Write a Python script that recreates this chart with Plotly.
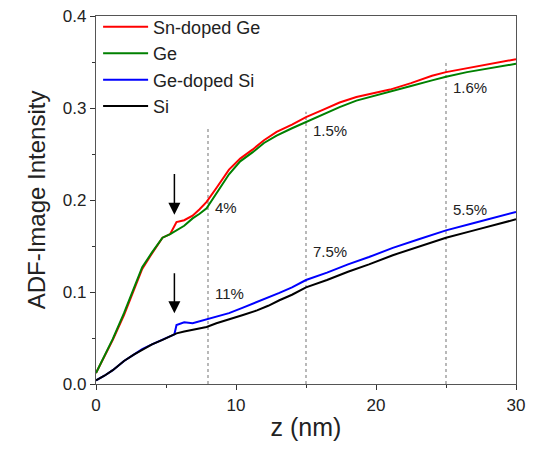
import plotly.graph_objects as go

# Depth profiles of ADF-image intensity
z_ge = [0.0, 0.6, 1.2, 2.0, 2.7, 3.3, 4.0, 4.75, 5.3, 5.75, 6.3, 6.9, 7.4, 7.9, 8.6, 9.5, 10.3, 11.2, 12.0, 12.9, 14.0, 15.0, 16.2, 17.4, 18.6, 20.0, 21.0, 22.5, 24.0, 25.0, 26.5, 28.0, 30.0]
sn_doped_ge = [0.012, 0.030, 0.048, 0.075, 0.103, 0.125, 0.142, 0.159, 0.163, 0.176, 0.178, 0.183, 0.190, 0.198, 0.213, 0.233, 0.245, 0.255, 0.265, 0.274, 0.282, 0.290, 0.298, 0.306, 0.312, 0.317, 0.320, 0.327, 0.335, 0.339, 0.343, 0.347, 0.353]
ge = [0.012, 0.030, 0.049, 0.077, 0.104, 0.127, 0.143, 0.159, 0.163, 0.167, 0.172, 0.180, 0.185, 0.191, 0.207, 0.228, 0.242, 0.252, 0.262, 0.270, 0.278, 0.285, 0.293, 0.301, 0.308, 0.314, 0.318, 0.324, 0.330, 0.334, 0.339, 0.343, 0.348]

z_si = [0.0, 0.6, 1.2, 2.0, 2.7, 3.3, 4.0, 4.75, 5.6, 5.75, 6.3, 6.9, 7.9, 8.6, 9.5, 10.5, 11.5, 12.3, 13.1, 14.0, 15.0, 16.5, 18.0, 19.5, 21.2, 23.0, 25.0, 27.0, 28.5, 30.0]
ge_doped_si = [0.004, 0.009, 0.015, 0.025, 0.032, 0.038, 0.043, 0.048, 0.054, 0.064, 0.067, 0.066, 0.070, 0.073, 0.077, 0.083, 0.089, 0.094, 0.099, 0.105, 0.113, 0.121, 0.130, 0.138, 0.148, 0.157, 0.167, 0.175, 0.181, 0.187]
si = [0.004, 0.009, 0.015, 0.025, 0.032, 0.037, 0.043, 0.048, 0.054, 0.055, 0.057, 0.059, 0.062, 0.066, 0.070, 0.075, 0.080, 0.085, 0.091, 0.097, 0.105, 0.113, 0.122, 0.130, 0.140, 0.149, 0.159, 0.167, 0.173, 0.179]

# Dotted reference depths and their concentration labels
ref_z = [8, 15, 25]
ref_top = [0.28, 0.296, 0.349]
ge_labels = ["4%", "1.5%", "1.6%"]
ge_label_y = [0.192, 0.276, 0.322]
si_labels = ["11%", "7.5%", "5.5%"]
si_label_y = [0.098, 0.144, 0.190]

series = [
    ("Sn-doped Ge", z_ge, sn_doped_ge, "#ff0000"),
    ("Ge", z_ge, ge, "#008000"),
    ("Ge-doped Si", z_si, ge_doped_si, "#0000ff"),
    ("Si", z_si, si, "#000000"),
]

fig = go.Figure()

for zr, top in zip(ref_z, ref_top):
    fig.add_trace(go.Scatter(x=[zr, zr], y=[0, top], mode="lines",
                             line=dict(color="#8a8a8a", width=1.2, dash="dot"),
                             showlegend=False, hoverinfo="skip"))

for name, xs, ys, col in series:
    fig.add_trace(go.Scatter(x=xs, y=ys, mode="lines", name=name,
                             line=dict(color=col, width=2)))

font = "Liberation Sans, Arial, sans-serif"
annotations = []
for zr, t, yv in zip(ref_z, ge_labels, ge_label_y):
    annotations.append(dict(x=zr + 0.35, y=yv, text=t, showarrow=False, xanchor="left",
                            font=dict(size=15, color="#222222", family=font)))
for zr, t, yv in zip(ref_z, si_labels, si_label_y):
    annotations.append(dict(x=zr + 0.35, y=yv, text=t, showarrow=False, xanchor="left",
                            font=dict(size=15, color="#222222", family=font)))

# Arrows marking the interface step
for y_head, y_tail in [(0.184, 0.230), (0.077, 0.122)]:
    annotations.append(dict(x=5.6, y=y_head, ax=5.6, ay=y_tail, xref="x", yref="y",
                            axref="x", ayref="y", showarrow=True, arrowhead=2,
                            arrowsize=1.6, arrowwidth=1.5, arrowcolor="black", text=""))

fig.update_layout(
    width=533, height=452,
    margin=dict(l=96, r=17, t=16, b=68, autoexpand=False),
    paper_bgcolor="white", plot_bgcolor="white",
    font=dict(family=font, color="#222222", size=17),
    showlegend=True,
    legend=dict(x=0.005, y=1.02, xanchor="left", yanchor="top",
                bgcolor="rgba(0,0,0,0)", font=dict(size=18, family=font),
                tracegroupgap=0, itemwidth=45),
    annotations=annotations,
)

fig.update_xaxes(range=[0, 30], tickvals=[0, 10, 20, 30], ticks="outside", ticklen=5,
                 tickcolor="#333333", showline=True, linecolor="#555555", linewidth=1.2,
                 mirror=True, showgrid=False, zeroline=False,
                 minor=dict(ticks="outside", ticklen=3, tickvals=[5, 15, 25], tickcolor="#333333"),
                 title=dict(text="z (nm)", font=dict(size=25, family=font), standoff=4),
                 tickfont=dict(size=17))
fig.update_yaxes(range=[0, 0.4], tickvals=[0, 0.1, 0.2, 0.3, 0.4],
                 ticktext=["0.0", "0.1", "0.2", "0.3", "0.4"], ticks="outside", ticklen=5,
                 tickcolor="#333333", showline=True, linecolor="#555555", linewidth=1.2,
                 mirror=True, showgrid=False, zeroline=False,
                 minor=dict(ticks="outside", ticklen=3, tickvals=[0.05, 0.15, 0.25, 0.35], tickcolor="#333333"),
                 title=dict(text="ADF-Image Intensity", font=dict(size=24, family=font), standoff=10),
                 tickfont=dict(size=17))

fig.write_html("out.html")
